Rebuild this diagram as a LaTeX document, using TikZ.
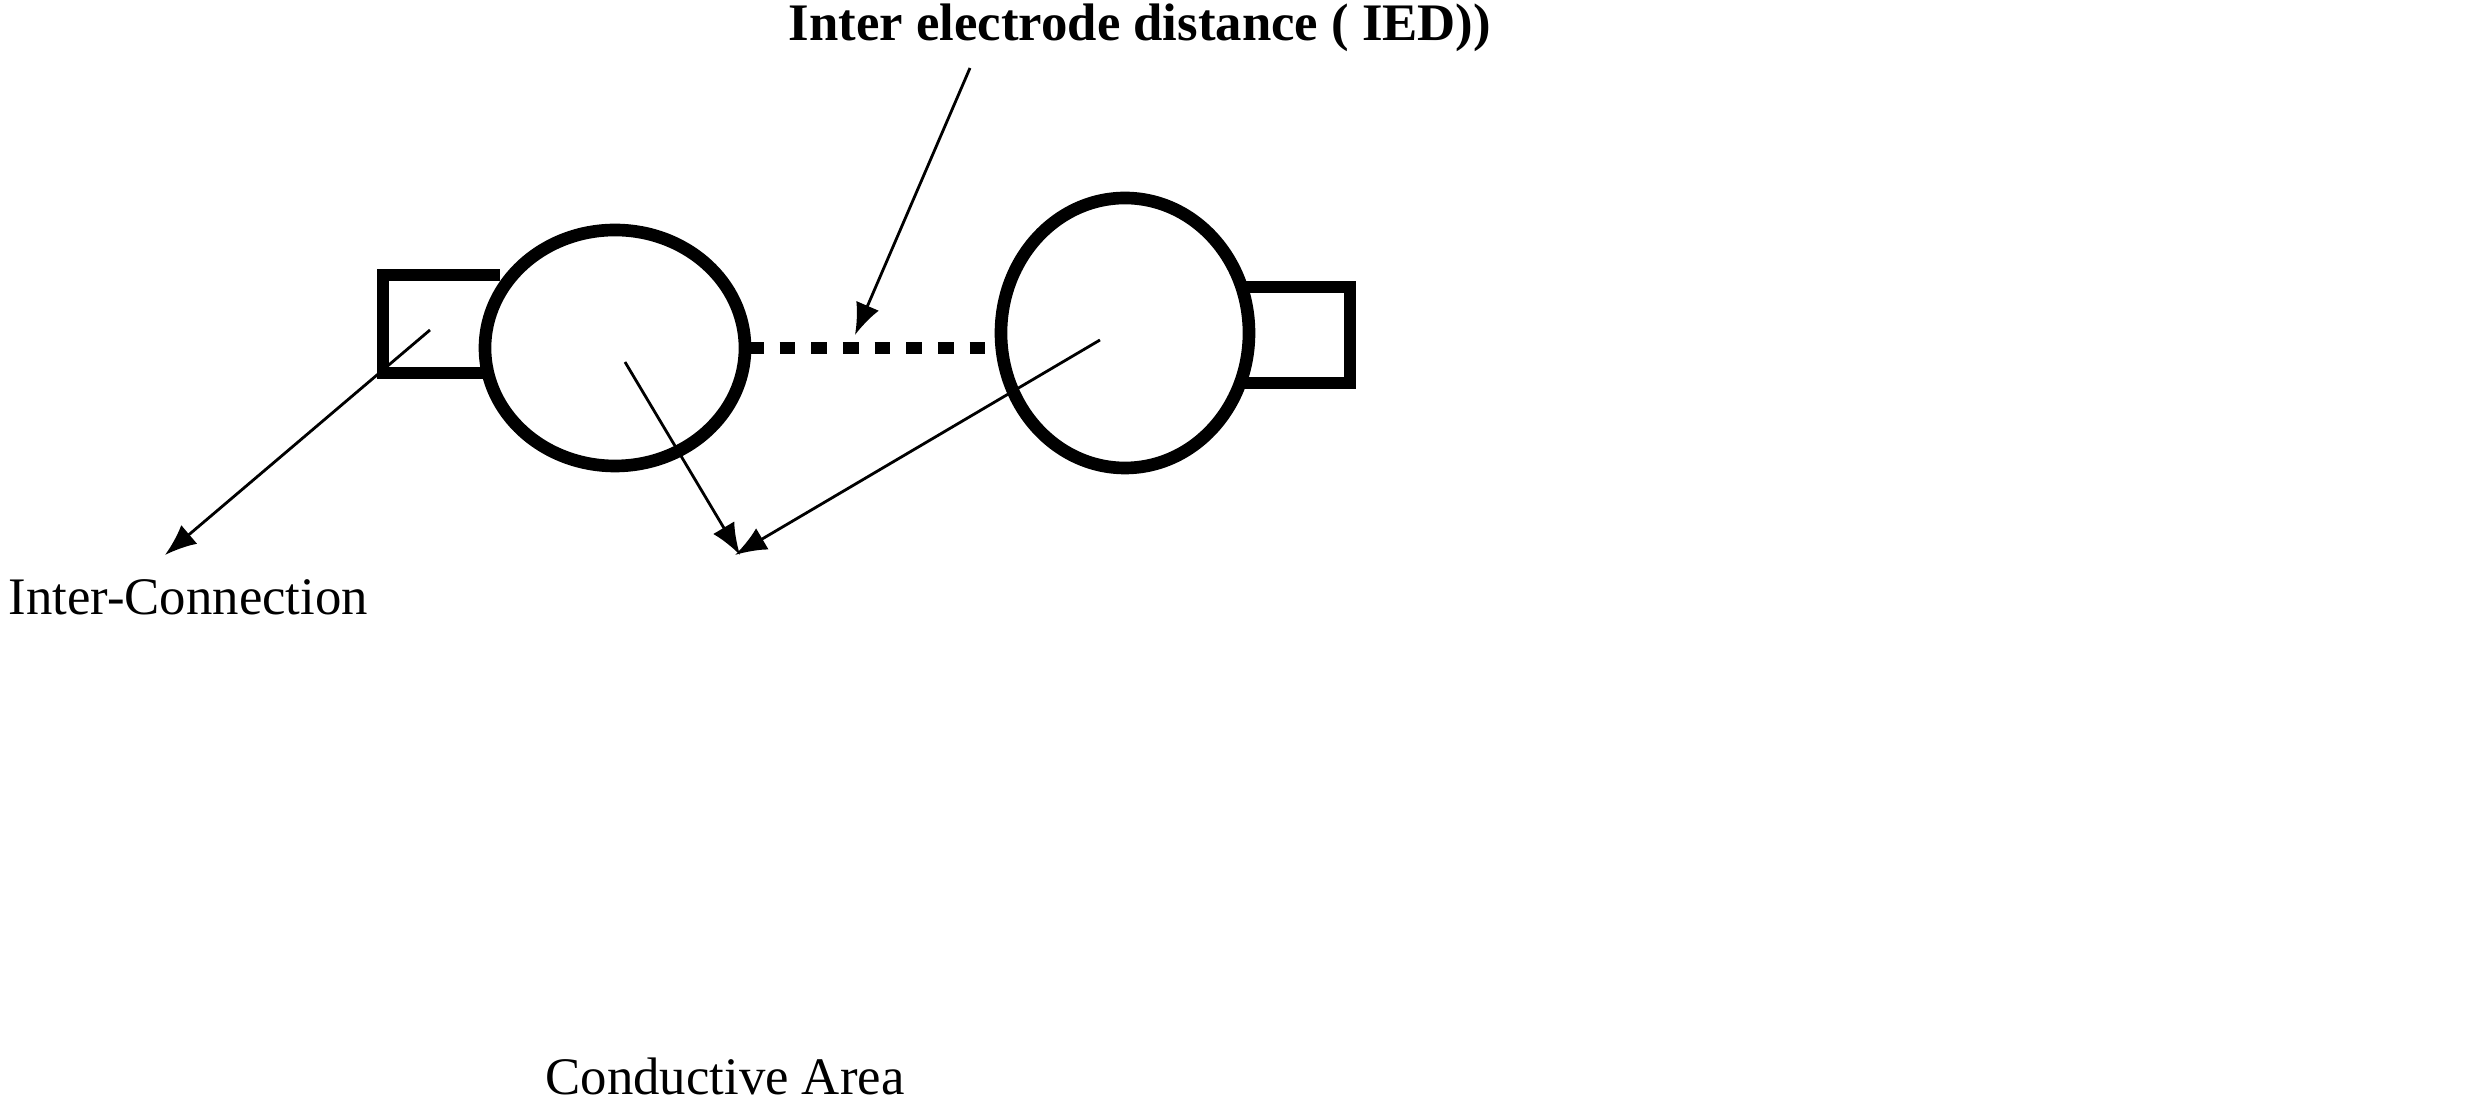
\documentclass[tikz,border=0pt]{standalone}
\usepackage{fontspec}
\setmainfont{Liberation Serif}
\usetikzlibrary{arrows.meta}
\begin{document}
\begin{tikzpicture}[x=0.01cm,y=-0.01cm,
  outl/.style={line width=3.6pt},
  arr/.style={-{Latex[length=9pt,width=7pt]},line width=0.8pt},
  lbl/.style={font=\fontsize{15}{17}\selectfont,inner sep=0pt}]
\useasboundingbox (0,0) rectangle (2474,1101);
% left electrode
\draw[outl] (500,275) -- (383,275) -- (383,373) -- (500,373);
\draw[outl,fill=white] (615,348) ellipse [x radius=130, y radius=118];
% right electrode
\draw[outl] (1235,287) -- (1350,287) -- (1350,383) -- (1235,383);
\draw[outl,fill=white] (1125,333) ellipse [x radius=124, y radius=135];
% dotted gap
\draw[line width=3.6pt,dash pattern=on 4.5pt off 4.5pt] (748,348) -- (998,348);
\coordinate (gap) at (855,335);
\coordinate (ls) at (430,330);
\coordinate (lc) at (625,362);
\coordinate (rc) at (1100,340);
\node[lbl,font=\fontsize{15}{17}\selectfont\bfseries] (ied) at (1140,28) {Inter electrode distance ( IED))};
\node[lbl,anchor=west] (ic) at (8,597) {Inter-Connection};
\node[lbl] (ca) at (725,1076) {Conductive Area};
\draw[arr] (970,68) -- (gap);
\draw[arr] (ls) -- (165,555);
\draw[arr] (lc) -- (740,555);
\draw[arr] (rc) -- (735,555);
\end{tikzpicture}
\end{document}
